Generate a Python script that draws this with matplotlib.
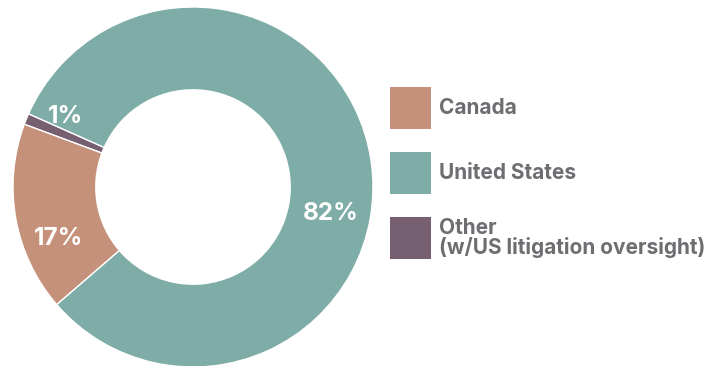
import numpy as np
import matplotlib
matplotlib.use('Agg')
from matplotlib import pyplot as plt
from matplotlib.patches import Rectangle

plt.rcParams['font.family'] = ['Inter', 'DejaVu Sans']

# slices in drawing order (counter-clockwise from the start angle)
labels = ['Other\n(w/US litigation oversight)', 'Canada', 'United States']
shares = [1, 17, 82]
colors = ['#755F70', '#C5917B', '#7EACA7']

# legend order
legend_order = [1, 2, 0]

# hand-placed label angles (deg) and radii for the percentage text
label_angle = [151, 201, 349]
label_radius = [0.81, 0.80, 0.78]

fig = plt.figure(figsize=(7.25, 3.66), dpi=100)
ax = fig.add_axes([13/725, -1/366, 360/725, 360/366])
ax.pie(shares, colors=colors, startangle=156, counterclock=True,
       radius=1.0, wedgeprops=dict(width=0.46, edgecolor='white', linewidth=1))
ax.set_xlim(-1, 1)
ax.set_ylim(-1, 1)
ax.set_aspect('equal')
ax.axis('off')

for s, a, r in zip(shares, label_angle, label_radius):
    t = np.deg2rad(a)
    ax.text(r*np.cos(t), r*np.sin(t), '%d%%' % s, color='white',
            fontsize=17.5, fontweight='bold', ha='center', va='center')

# legend drawn by hand on its own axes (pixel coordinates)
lax = fig.add_axes([0, 0, 1, 1])
lax.set_xlim(0, 725)
lax.set_ylim(366, 0)
lax.axis('off')
for k, i in enumerate(legend_order):
    y = 87 + k*65
    lax.add_patch(Rectangle((390, y), 41, 42, color=colors[i], lw=0))
    lax.text(439, y + 21, labels[i], color='#6D6E71', fontsize=15,
             fontweight='bold', ha='left', va='center', linespacing=1.0)

fig.savefig('out.png', dpi=100)
